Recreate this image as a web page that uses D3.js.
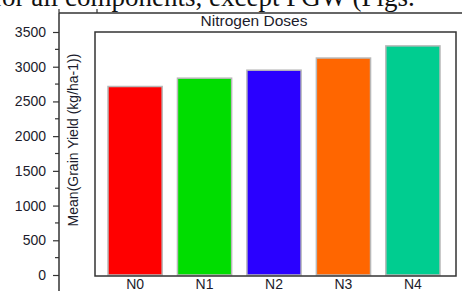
<!DOCTYPE html>
<html>
<head>
<meta charset="utf-8">
<script src="https://cdn.jsdelivr.net/npm/d3@7"></script>
<style>
	body { margin: 0; background: #fff; }
	svg { display: block; }
	text { font-family: "Liberation Sans", Arial, sans-serif; fill: #1c1c2c; }
</style>
</head>
<body>
<div id="chart"></div>
<script>
	'use strict';

	var categories = ['N0', 'N1', 'N2', 'N3', 'N4'];
	var yields = [2715, 2835, 2950, 3125, 3300];
	var barColors = ['#ff0000', '#00dd00', '#2a00ff', '#ff6600', '#00cd90'];
	var yTicks = [0, 500, 1000, 1500, 2000, 2500, 3000, 3500];

	var width = 462,
		height = 291,
		box = { left: 95, right: 456, top: 32, bottom: 276 },
		axisX = 59,
		frameTop = 13;

	var svg = d3.select('#chart').append('svg')
		.attr('width', width)
		.attr('height', height);

	// paper text cut off above the figure
	svg.append('text')
		.attr('x', -7)
		.attr('y', 6)
		.style('font-family', '"Liberation Serif", "Times New Roman", serif')
		.style('font-size', '27px')
		.style('fill', '#111')
		.text('for all components, except PGW (Figs.');

	var y = d3.scaleLinear()
		.domain([0, 3500])
		.range([275, box.top]);

	var x = d3.scaleBand()
		.domain(categories)
		.range([108, 440])
		.paddingInner(0.22)
		.paddingOuter(0);

	// outer frame lines
	svg.append('line')
		.attr('x1', axisX).attr('x2', width)
		.attr('y1', frameTop).attr('y2', frameTop)
		.attr('stroke', '#333').attr('stroke-width', 1.5);
	svg.selectAll('.top-tick')
		.data([axisX, 97])
		.enter()
		.append('line')
		.attr('class', 'top-tick')
		.attr('x1', function(d) { return d; })
		.attr('x2', function(d) { return d; })
		.attr('y1', frameTop)
		.attr('y2', frameTop - 4)
		.attr('stroke', '#333').attr('stroke-width', 1.2);

	// y axis
	var yAxis = d3.axisLeft(y)
		.tickValues(yTicks)
		.tickSize(6)
		.tickPadding(7)
		.tickFormat(d3.format('d'));

	var gy = svg.append('g')
		.attr('transform', 'translate(' + axisX + ',0)')
		.call(yAxis);
	gy.select('.domain').remove();
	gy.selectAll('.tick line').attr('stroke', '#333').attr('stroke-width', 1.2);
	gy.selectAll('.tick text')
		.style('font-size', '14px')
		.style('font-family', '"Liberation Sans", Arial, sans-serif')
		.attr('fill', '#1c1c2c');

	var minor = d3.range(250, 3500, 500);
	gy.selectAll('.minor')
		.data(minor)
		.enter()
		.append('line')
		.attr('class', 'minor')
		.attr('x1', -4).attr('x2', 0)
		.attr('y1', function(d) { return y(d); })
		.attr('y2', function(d) { return y(d); })
		.attr('stroke', '#333').attr('stroke-width', 1.2);

	svg.append('line')
		.attr('x1', axisX).attr('x2', axisX)
		.attr('y1', frameTop).attr('y2', height)
		.attr('stroke', '#333').attr('stroke-width', 1.5);

	// y label
	svg.append('text')
		.attr('transform', 'translate(78,140) rotate(-90)')
		.attr('text-anchor', 'middle')
		.style('font-size', '14px')
		.text('Mean(Grain Yield (kg/ha-1))');

	// title
	svg.append('text')
		.attr('x', 254)
		.attr('y', 26)
		.attr('text-anchor', 'middle')
		.style('font-size', '15.5px')
		.text('Nitrogen Doses');

	// bars
	svg.selectAll('rect.bar')
		.data(yields)
		.enter()
		.append('rect')
		.attr('class', 'bar')
		.attr('x', function(d, i) { return x(categories[i]); })
		.attr('width', x.bandwidth())
		.attr('y', function(d) { return y(d); })
		.attr('height', function(d) { return y(0) - y(d); })
		.attr('fill', function(d, i) { return barColors[i]; })
		.attr('stroke', '#b8b8b8')
		.attr('stroke-width', 1.5);

	// inner box
	svg.append('rect')
		.attr('x', box.left)
		.attr('y', box.top)
		.attr('width', box.right - box.left)
		.attr('height', box.bottom - box.top)
		.attr('fill', 'none')
		.attr('stroke', '#333')
		.attr('stroke-width', 1.5);

	// x labels
	svg.selectAll('.xlabel')
		.data(categories)
		.enter()
		.append('text')
		.attr('class', 'xlabel')
		.attr('x', function(d) { return x(d) + x.bandwidth() / 2; })
		.attr('y', 289)
		.attr('text-anchor', 'middle')
		.style('font-size', '14px')
		.text(function(d) { return d; });
</script>
</body>
</html>
